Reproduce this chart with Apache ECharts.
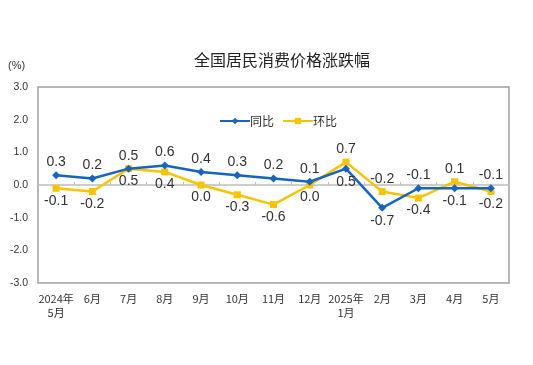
<!DOCTYPE html>
<html><head><meta charset="utf-8">
<script src="https://cdn.jsdelivr.net/npm/echarts@6/dist/echarts.min.js"></script>
<style>html,body{margin:0;padding:0;background:#fff}#c{width:533px;height:365px}</style>
</head><body><div id="c"></div>
<script>
var categories = ['2024年\n5月','6月','7月','8月','9月','10月','11月','12月','2025年\n1月','2月','3月','4月','5月'];
var yoy = [0.3, 0.2, 0.5, 0.6, 0.4, 0.3, 0.2, 0.1, 0.5, -0.7, -0.1, -0.1, -0.1];
var mom = [-0.1, -0.2, 0.5, 0.4, 0.0, -0.3, -0.6, 0.0, 0.7, -0.2, -0.4, 0.1, -0.2];
var yTicks = [-3, -2, -1, 0, 1, 2, 3];

var chart = echarts.init(document.getElementById('c'));
function lbl(v){ return v.toFixed(1); }
function buildData(own, other, isFirst){
  return own.map(function(v,i){
    var top = isFirst ? v >= other[i] : v > other[i];
    return {value: v, label: {position: top ? 'top' : 'bottom'}};
  });
}
var labelFont = {fontFamily: 'Liberation Sans, Arial', fontSize: 14, color: '#333', distance: 2,
  formatter: function(p){ return lbl(p.value); }};
chart.setOption({
  animation: false,
  title: {text: '全国居民消费价格涨跌幅', left: 189, top: 47,
    textStyle: {fontFamily: 'Noto Sans CJK SC', fontSize: 16, fontWeight: 'normal', color: '#222'}},
  graphic: [{type: 'text', left: 8, top: 60, style: {text: '(%)', fontFamily: 'Liberation Sans, Arial', fontSize: 11, fill: '#333'}}],
  legend: {top: 110, left: 214, itemGap: 8, itemWidth: 30, itemHeight: 8,
    textStyle: {fontFamily: 'Noto Sans CJK SC', fontSize: 12, color: '#333', padding: [0, 0, 0, -5]},
    data: ['同比', '环比']},
  grid: {left: 38, right: 24, top: 87, bottom: 82, show: true, borderColor: '#a0a0a0', borderWidth: 1.5},
  xAxis: {type: 'category', data: categories, boundaryGap: true,
    axisLine: {onZero: true, lineStyle: {color: '#bdbdbd', width: 1.5}},
    axisTick: {show: true, inside: true, length: 3, lineStyle: {color: '#bdbdbd'}},
    axisLabel: {fontFamily: 'Noto Sans CJK SC', fontSize: 11, color: '#333', interval: 0, margin: 9,
      lineHeight: 14, formatter: function(v){return v;}},
    position: 'bottom'},
  yAxis: {type: 'value', min: yTicks[0], max: yTicks[yTicks.length-1], interval: 1,
    axisLine: {show: false}, axisTick: {show: false}, splitLine: {show: false},
    axisLabel: {fontFamily: 'Liberation Sans, Arial', fontSize: 10.5, color: '#333', margin: 10,
      formatter: function(v){ return v.toFixed(1); }}},
  series: [
    {name: '同比', type: 'line', data: buildData(yoy, mom, true), symbol: 'diamond', symbolSize: 8,
      itemStyle: {color: '#1565c0'}, lineStyle: {width: 2.5, color: '#1565c0'},
      label: Object.assign({show: true}, labelFont), z: 3},
    {name: '环比', type: 'line', data: buildData(mom, yoy, false), symbol: 'rect', symbolSize: 7,
      itemStyle: {color: '#f8c400'}, lineStyle: {width: 2.5, color: '#f8c400'},
      label: Object.assign({show: true}, labelFont), z: 2}
  ]
});
</script></body></html>
